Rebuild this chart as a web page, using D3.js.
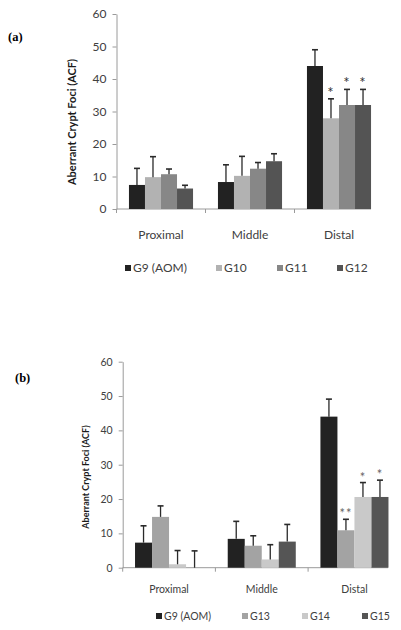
<!DOCTYPE html>
<html><head><meta charset="utf-8">
<script src="https://cdn.jsdelivr.net/npm/d3@7"></script>
<style>body{margin:0;background:#fff}svg{display:block}</style>
</head><body>
<script>
const categories = ["Proximal", "Middle", "Distal"];
const yTicks = [0, 10, 20, 30, 40, 50, 60];

// Panel (a)
const seriesA = ["G9 (AOM)", "G10", "G11", "G12"];
const valuesA = [[7.4, 8.3, 44.0], [9.8, 10.2, 27.9], [10.7, 12.4, 32.0], [6.3, 14.7, 32.0]];
const errorsA = [[12.5, 13.6, 49.0], [16.1, 16.2, 33.9], [12.3, 14.3, 36.8], [7.3, 17.0, 36.8]];
const starsA = [["", "", ""], ["", "", "*"], ["", "", "*"], ["", "", "*"]];
const colorsA = ["#222222", "#b2b2b2", "#878787", "#545454"];

// Panel (b)
const seriesB = ["G9 (AOM)", "G13", "G14", "G15"];
const valuesB = [[7.3, 8.4, 44.0], [14.8, 6.4, 10.9], [1.0, 2.4, 20.6], [0, 7.6, 20.6]];
const errorsB = [[12.2, 13.5, 49.1], [18.0, 9.3, 14.1], [5.0, 6.7, 24.8], [4.9, 12.6, 25.5]];
const starsB = [["", "", ""], ["", "", "**"], ["", "", "*"], ["", "", "*"]];
const colorsB = ["#222222", "#a3a3a3", "#c9c9c9", "#555555"];

const svg = d3.select("body").append("svg").attr("width", 401).attr("height", 630);
const FONT = "Lato, 'Open Sans', sans-serif";

function panel(o) {
  const g = svg.append("g");
  const y = d3.scaleLinear().domain([0, 60]).range([o.y0, o.y60]);
  const x0 = d3.scaleBand().domain(categories).range([o.xL, o.xL + 3 * o.band]);
  const bw = x0.bandwidth();
  const x1 = d3.scaleBand().domain(o.series).range([bw * o.inset, bw * (1 - o.inset)]);

  // y axis
  const ya = g.append("g").attr("transform", `translate(${o.xL},0)`)
    .call(d3.axisLeft(y).tickValues(yTicks).tickSize(4).tickSizeOuter(0).tickPadding(6));
  ya.select(".domain").attr("stroke", "#9a9a9a");
  ya.selectAll(".tick line").attr("stroke", "#9a9a9a");
  ya.selectAll("text").attr("font-family", FONT).attr("font-size", o.fs).attr("fill", "#404040");

  // x axis baseline and boundary ticks
  g.append("line").attr("x1", o.xL).attr("x2", o.xEnd).attr("y1", o.y0).attr("y2", o.y0)
    .attr("stroke", "#9a9a9a");
  const bounds = [0, 1, 2].map(i => o.xL + i * bw);
  g.selectAll(".bt").data(bounds).enter().append("line")
    .attr("x1", d => d).attr("x2", d => d).attr("y1", o.y0).attr("y2", o.y0 + 4)
    .attr("stroke", "#9a9a9a");
  const xa = g.append("g").attr("transform", `translate(0,${o.y0})`)
    .call(d3.axisBottom(x0).tickSize(0).tickPadding(o.catPad));
  xa.select(".domain").remove();
  xa.selectAll("text").attr("font-family", FONT).attr("font-size", o.fs).attr("fill", "#404040");

  // bars
  o.series.forEach((s, si) => {
    categories.forEach((c, ci) => {
      const xb = x0(c) + x1(s);
      const v = o.values[si][ci];
      g.append("rect").attr("x", xb).attr("width", x1.bandwidth())
        .attr("y", y(v)).attr("height", y(0) - y(v)).attr("fill", o.colors[si]);
    });
  });
  // error bars
  o.series.forEach((s, si) => {
    categories.forEach((c, ci) => {
      const cx = x0(c) + x1(s) + x1.bandwidth() / 2;
      const v = o.values[si][ci], e = o.errors[si][ci];
      g.append("line").attr("x1", cx).attr("x2", cx).attr("y1", y(v)).attr("y2", y(e))
        .attr("stroke", "#2a2a2a").attr("stroke-width", 1.3);
      g.append("line").attr("x1", cx - 3).attr("x2", cx + 3).attr("y1", y(e)).attr("y2", y(e))
        .attr("stroke", "#2a2a2a").attr("stroke-width", 1.6);
      const st = o.stars[si][ci];
      if (st) g.append("text").attr("x", cx).attr("y", y(e) - 1).attr("text-anchor", "middle")
        .attr("font-family", FONT).attr("font-size", o.starFs).attr("letter-spacing", "1px")
        .attr("fill", o.starColor).text(st);
    });
  });

  // y title
  g.append("text").attr("transform", `translate(${o.titleX},${o.titleY}) rotate(-90)`)
    .attr("text-anchor", "middle").attr("dy", "0.35em")
    .attr("font-family", FONT).attr("font-weight", "bold").attr("font-size", o.titleFs)
    .attr("fill", "#1a1a1a").text("Aberrant Crypt Foci (ACF)");

  // panel label
  g.append("text").attr("x", o.labX).attr("y", o.labY).attr("dy", "0.35em")
    .attr("font-family", "'Liberation Serif', 'Times New Roman', serif").attr("font-weight", "bold")
    .attr("font-size", 12.5).attr("fill", "#000").text(o.label);

  // legend
  o.series.forEach((s, si) => {
    const lx = o.legX[si];
    g.append("rect").attr("x", lx).attr("y", o.legY - 3).attr("width", 6).attr("height", 6)
      .attr("fill", o.colors[si]);
    g.append("text").attr("x", lx + 8).attr("y", o.legY).attr("dy", "0.35em")
      .attr("font-family", FONT).attr("font-size", o.fs).attr("fill", "#404040").text(s);
  });
}

panel({
  series: seriesA, values: valuesA, errors: errorsA, stars: starsA, colors: colorsA,
  xL: 116.5, band: 89, inset: 0.14, xEnd: 371, y0: 209, y60: 14, fs: 12, catPad: 21,
  titleX: 72, titleY: 122, titleFs: 11, label: "(a)", labX: 8, labY: 37,
  legX: [125, 216, 277, 337], legY: 268, starColor: "#333", starFs: 15
});
panel({
  series: seriesB, values: valuesB, errors: errorsB, stars: starsB, colors: colorsB,
  xL: 122.7, band: 92.7, inset: 0.133, xEnd: 388, y0: 567.7, y60: 361.7, fs: 10.5, catPad: 18,
  titleX: 85.5, titleY: 477, titleFs: 9, label: "(b)", labX: 15, labY: 378,
  legX: [156, 242, 302, 362], legY: 616, starColor: "#666", starFs: 13
});
</script>
</body></html>
